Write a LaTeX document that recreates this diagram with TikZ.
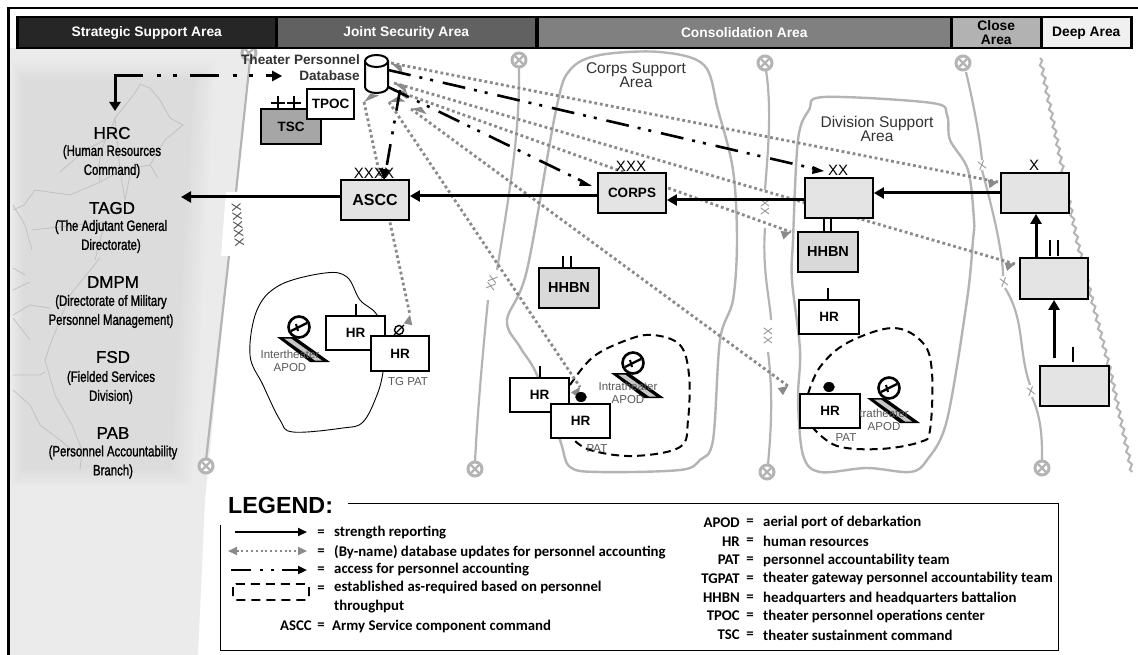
\documentclass[tikz,border=0pt]{standalone}
\usepackage{fontspec}
\setmainfont{Liberation Sans}
\newfontfamily\cond[FakeStretch=0.76,FakeBold=1.2]{Liberation Sans}
\newfontfamily\nmf[FakeBold=0.8]{Liberation Sans}
\newfontfamily\calb{Carlito}
\usetikzlibrary{arrows.meta,shapes.geometric,decorations.pathmorphing,calc}
\definecolor{phase}{HTML}{B4B4B4}
\definecolor{upd}{HTML}{8A8A8A}
\definecolor{boxg}{HTML}{E4E4E4}
\definecolor{boxh}{HTML}{D9D9D9}
\tikzset{
 bandbox/.style={draw=black,line width=2.5pt,anchor=north west,inner sep=0pt,font=\fontsize{13.8}{13.5}\selectfont\bfseries,align=center},
 unitbox/.style={draw=black,line width=1.8pt,fill=white,inner sep=0pt,font=\fontsize{13.5}{14}\selectfont\bfseries},
 echelon/.style={font=\fontsize{15}{15}\selectfont,inner sep=0pt},
 strength/.style={line width=3pt,-{Triangle[length=10pt,width=11pt]}},
 access/.style={line width=2.6pt,dash pattern=on 23pt off 9pt on 3pt off 8pt on 3pt off 10pt},
 accessb/.style={line width=3pt,dash pattern=on 29pt off 14pt on 4pt off 12pt on 4pt off 13pt},
 update/.style={draw=upd,line width=2.8pt,dash pattern=on 2.8pt off 2.8pt},
 phaseline/.style={draw=phase,line width=2.2pt},
 region/.style={draw=phase,line width=2.4pt},
 blob/.style={draw=black,line width=2pt,dash pattern=on 8pt off 5pt},
 areatext/.style={font=\fontsize{15.5}{14.5}\selectfont,text=black!80,align=center,inner sep=0pt},
 smalltext/.style={font=\fontsize{11.5}{13}\selectfont,text=black!65,align=center,inner sep=0pt},
 unitname/.style={font=\nmf\fontsize{17}{17}\selectfont,inner sep=0pt},
 unitlong/.style={font=\cond\fontsize{15}{19}\selectfont,inner sep=0pt,align=center},
 legtext/.style={font=\calb\bfseries\fontsize{14.8}{19}\selectfont,anchor=west,inner sep=0pt,align=left},
 legkey/.style={font=\calb\bfseries\fontsize{14.8}{19}\selectfont,anchor=east,inner sep=0pt},
 legeq/.style={font=\calb\bfseries\fontsize{14.8}{19}\selectfont,inner sep=0pt},
 xmark/.style={font=\fontsize{12}{12}\selectfont,text=phase!80!black,inner sep=0pt},
}
\newcommand{\phasedot}[2]{%
 \fill[white] (#1,#2) circle (8);
 \draw[phase,line width=3pt] (#1,#2) circle (7);
 \draw[phase,line width=2.4pt] (#1-4,#2-4) -- (#1+4,#2+4) (#1-4,#2+4) -- (#1+4,#2-4);}
\newcommand{\airfield}[2]{%
 \begin{scope}[shift={(#1,#2)}]
 \fill[black] (-22,10) -- (-4,10) -- (31,35) -- (11,35) -- cycle;
 \fill[black!22] (-15,11.5) -- (-8,11.5) -- (23,33.5) -- (16,33.5) -- cycle;
 \draw[line width=2.6pt,fill=white] (0,0) circle (10.5);
 \draw[line width=2.4pt] (-8,4) -- (8,-4);
 \draw[line width=2pt] (-3,-3) -- (-1,4);
 \end{scope}}
\begin{document}
\begin{tikzpicture}[x=1pt,y=-1pt]
\useasboundingbox (0,0) rectangle (1138,655);
\fill[white] (0,0) rectangle (1138,655);
% left shaded strategic area
\fill[black!8] (10,48) -- (250,48) -- (205,500) -- (198,655) -- (10,655) -- cycle;
\foreach \i/\c in {0/8.7,1/9.4,2/10.1,3/10.8,4/11.5,5/12.2,6/12.9,7/13.6}{
 \fill[black!\c] (12+\i*1.5,62+\i*2.5) -- (215-\i*3,62+\i*2.5) -- (192-\i*3,486-\i*2.5) -- (12+\i*1.5,486-\i*2.5) -- cycle;}
% map lines
\begin{scope}[draw=black!24,line width=.8pt,line join=round]
\draw (13,210) -- (24,205) -- (35,190) -- (70,195) -- (100,182) -- (122,170) -- (150,165) -- (158,178);
\draw (100,182) .. controls (95,150) and (110,135) .. (115,118) .. controls (125,105) and (135,95) .. (140,84) -- (150,88) -- (160,100) -- (170,118) -- (183,125) -- (165,140) -- (150,165);
\draw (60,172) -- (85,150) -- (115,135) (115,118) -- (120,170) -- (125,200) -- (130,175);
\draw (13,205) -- (25,225) -- (32,250) (32,230) -- (105,222) -- (95,260);
\draw (13,268) -- (25,275) (13,290) -- (30,282) (13,315) -- (30,305) -- (50,308);
\draw (13,318) -- (30,340) (100,258) -- (92,268) -- (70,295) -- (50,345) -- (45,360) -- (55,395) -- (72,425) -- (82,450) -- (80,470);
\draw (13,375) -- (40,375) -- (45,372) (13,390) -- (30,405) -- (40,425) -- (60,440) -- (78,455);
\end{scope}
% phase lines
\draw[phaseline] (250,60) -- (236,192);
\draw[phaseline] (229,256) -- (206,460);
\fill[white] (226,192) -- (240,192) -- (236,256) -- (221,256) -- cycle;
\draw[phaseline] (519,68) .. controls (520,130) and (510,190) .. (497,270);
\draw[phaseline] (488,300) .. controls (482,360) and (477,420) .. (475,462);
\draw[phaseline] (766,70) .. controls (772,110) and (768,150) .. (765,190);
\draw[phaseline] (765,228) .. controls (762,270) and (770,300) .. (771,320);
\draw[phaseline] (768,352) .. controls (774,400) and (770,440) .. (768,465);
\draw[phaseline] (966,72) .. controls (975,110) and (980,140) .. (982,160);
\draw[phaseline] (982,170) .. controls (990,200) and (1003,250) .. (1003,276);
\draw[phaseline] (1005,288) .. controls (1025,320) and (1018,350) .. (1030,385);
\draw[phaseline] (1032,397) .. controls (1042,420) and (1042,440) .. (1042,460);
\phasedot{249}{53}\phasedot{206}{466}\phasedot{519}{60}\phasedot{475}{469}
\phasedot{765}{63}\phasedot{767}{472}\phasedot{963}{63}\phasedot{1042}{468}
\node[font=\fontsize{13}{13}\selectfont,text=black!70,inner sep=0pt,rotate=-85] (lx5) at (238,225) {XXXXX};
\node[xmark,rotate=75] (lx2) at (492,283) {XX};
\node[xmark,rotate=-90] (lx3a) at (765,208) {XX};
\node[xmark,rotate=-90] (lx3b) at (768,336) {XX};
\node[xmark,rotate=15] (lx4a) at (982,165) {X};
\node[xmark,rotate=15] (lx4b) at (1004,282) {X};
\node[xmark,rotate=15] (lx4c) at (1031,391) {X};
% forward line
\draw[draw=phase,line width=2pt,decorate,decoration={snake,amplitude=1.6pt,segment length=9pt}] (1040,58) -- (1077,240) -- (1110,370) -- (1132,472);
% regions
\draw[region] plot[smooth cycle,tension=.55] coordinates {(660,52) (704,65) (718,110) (733,170) (737,240) (733,300) (720,340) (713,440) (700,460) (680,470) (600,472) (570,467) (560,440) (537,375) (520,347) (507,320) (527,270) (556,110) (570,70) (600,55)};
\draw[region] plot[smooth cycle,tension=.55] coordinates {(824,97) (932,103) (947,115) (950,140) (968,170) (974,220) (973,240) (967,300) (947,420) (927,460) (910,472) (867,468) (820,472) (803,455) (798,400) (800,350) (792,280) (793,240) (798,140) (809,110)};
\draw[black,line width=.9pt] plot[smooth cycle,tension=.6] coordinates {(325,273) (347,277) (360,300) (377,315) (385,345) (383,372) (377,395) (363,422) (343,428) (293,432) (280,420) (263,385) (250,355) (257,310) (280,285)};
\draw[blob] plot[smooth,tension=.6] coordinates {(570,385) (593,357) (627,340) (653,335) (680,345) (689,375) (688,420) (680,447) (633,456) (590,450) (572,438)};
\draw[blob] plot[smooth,tension=.6] coordinates {(808,394) (820,367) (847,343) (893,328) (923,343) (932,373) (930,430) (920,442) (880,449) (837,446) (813,428)};
% airfields
\airfield{299}{327}\airfield{633}{363}\airfield{889}{388}
% band
\node[bandbox,fill=black!85,text=white,minimum width=259,minimum height=31] (b1) at (16,16) {Strategic Support Area};
\node[bandbox,fill=black!62,text=white,minimum width=259,minimum height=31] (b2) at (275.5,16) {Joint Security Area};
\node[bandbox,fill=black!50,text=white,minimum width=414,minimum height=31] (b3) at (536,16) {Consolidation Area};
\node[bandbox,fill=black!30,minimum width=90,minimum height=31] (b4) at (950,16) {Close\\Area};
\node[bandbox,fill=black!6,minimum width=90,minimum height=31] (b5) at (1040,16) {Deep Area};
\draw[line width=2pt] (1138,8) -- (8.5,8);
\draw[line width=3pt] (8.5,7) -- (8.5,655);
% update lines
\coordinate (dba) at (391,63);\coordinate (dbb) at (394,83);\coordinate (dbc) at (394,90);
\coordinate (dbd) at (411,109);\coordinate (dbe) at (389,102);\coordinate (dbf) at (364,102);
\coordinate (hrd) at (788,386);\coordinate (hra) at (580,387);\coordinate (hrt) at (410,315);
\coordinate (xin) at (998,182);\coordinate (iin) at (1015,264);\coordinate (hhin) at (791,232);
\foreach \a/\b in {dba/xin,dbb/iin,dbc/hhin,dbd/hrd,dbe/hra,dbf/hrt}{
 \draw[update] (\a) -- (\b);
 \path let \p1=($(\a)-(\b)$), \n1={atan2(\y1,\x1)} in
  \pgfextra{\xdef\ang{\n1}};
 \fill[upd] (\a) -- ++(\ang-180+25:10.5) -- ++(\ang-90:8.9) -- cycle;
 \fill[upd] (\b) -- ++(\ang+25:10.5) -- ++(\ang-90:8.9) -- cycle;
}
% database
\node[minimum width=23,minimum height=38,inner sep=0pt] (db) at (376.5,74) {};
\draw[line width=2pt,fill=white] (365,61) -- (365,87) arc[start angle=180,end angle=0,x radius=11.5,y radius=6] -- (388,61);
\draw[line width=2pt,fill=white] (376.5,61) ellipse (11.5 and 6);
\node[font=\fontsize{13.6}{16}\selectfont,align=right,anchor=east,inner sep=0pt,text=black!80] (dbl) at (360,68) {\textbf{Theater Personnel}\\\textbf{Database}};
% unit boxes
\newcommand{\ubox}[7]{\node[unitbox,fill=#6,minimum width=#4,minimum height=#5] (#1) at (#2,#3) {#7};}
\ubox{tsc}{291}{126.5}{60}{35}{black!35}{TSC}
\ubox{tpoc}{330.5}{104}{47}{30}{white}{TPOC}
\ubox{ascc}{375}{200}{68}{40}{boxg}{\fontsize{16}{16}\selectfont ASCC}
\ubox{corps}{632}{193}{68}{40}{boxg}{CORPS}
\ubox{xx}{839}{198}{68}{40}{boxg}{}
\ubox{xb}{1035}{193}{68}{40}{boxg}{}
\ubox{ii}{1054}{278.5}{68}{41}{boxg}{}
\ubox{ib}{1074.5}{386}{69}{40}{boxg}{}
\ubox{hh1}{569}{288}{60}{40}{boxh}{\fontsize{14.5}{15}\selectfont HHBN}
\ubox{hh2}{828}{252}{60}{40}{boxh}{\fontsize{14.5}{15}\selectfont HHBN}
\ubox{hr1}{829}{317}{60}{34}{white}{HR}
\ubox{hr2}{830}{411}{60}{34}{white}{HR}
\ubox{hr3}{355.5}{333}{59}{34}{white}{HR}
\ubox{hr4}{400}{353.5}{58}{35}{white}{HR}
\ubox{hr5}{539.5}{395}{59}{34}{white}{HR}
\ubox{hr6}{580.5}{421}{59}{34}{white}{HR}
% symbols
\node[echelon] (e1) at (374,173) {XXXX};
\node[echelon] (e2) at (631,166) {XXX};
\node[echelon] (e3) at (838,170) {XX};
\node[echelon] (e4) at (1034,165) {X};
\draw[line width=1.5pt] (271,103) -- (285,103) (278,96) -- (278,109) (287,103) -- (301,103) (294,96) -- (294,109);
\draw[line width=1.4pt] (1050,240) -- (1050,256) (1058,240) -- (1058,256);
\draw[line width=1.4pt] (1073,347) -- (1073,362);
\draw[line width=1.4pt] (563,256) -- (563,268) (571,256) -- (571,268);
\draw[line width=1.4pt] (824,218) -- (824,232) (831,218) -- (831,232);
\draw[line width=1.4pt] (828,288) -- (828,300);
\draw[line width=1.4pt] (356,304) -- (356,316);
\draw[line width=1.4pt] (540,366) -- (540,378);
\fill (829,387) ellipse (5.8 and 5);
\fill (581,397) ellipse (5.8 and 5);
\draw[line width=1.4pt] (399,330) circle (4.5) (394,335) -- (404,325) (397,335) -- (397,336);
% small labels
\node[smalltext] (t1) at (290,360.5) {Intertheater\\APOD};
\node[smalltext] (t2) at (628,393) {Intratheater\\APOD};
\node[smalltext] (t3) at (884,420) {tratheater\\APOD};
\node[smalltext] (t4) at (408,382) {TG PAT};
\node[smalltext] (t5) at (597,449) {PAT};
\node[smalltext] (t6) at (846,438) {PAT};
\node[areatext] (a1) at (636,75) {Corps Support\\Area};
\node[areatext] (a2) at (877,129) {Division Support\\Area};
% HQ text
\node[unitname] (n1) at (112,133) {HRC};
\node[unitlong] (n1b) at (112,161.5) {(Human Resources\\Command)};
\node[unitname] (n2) at (112,208) {TAGD};
\node[unitlong] (n2b) at (111,236.5) {(The Adjutant General\\Directorate)};
\node[unitname] (n3) at (113,282) {DMPM};
\node[unitlong] (n3b) at (111,311.5) {(Directorate of Military\\Personnel Management)};
\node[unitname] (n4) at (113,357) {FSD};
\node[unitlong] (n4b) at (111,387.5) {(Fielded Services\\Division)};
\node[unitname] (n5) at (113,433) {PAB};
\node[unitlong] (n5b) at (113,462) {(Personnel Accountability\\Branch)};
% strength arrows
\coordinate (hq) at (181,197);
\draw[strength] (ib.north -| ii.south) ++(0,-7) -- (ii.south);
\draw[strength] ([xshift=-18pt]ii.north) -- ([xshift=-18pt]ii.north |- xb.south);
\draw[strength] (xb.west) -- (xb.west -| xx.east);
\draw[strength] ([yshift=-2pt]xx.west) -- ([yshift=-2pt]xx.west -| corps.east);
\draw[strength] ([yshift=-3pt]corps.west) -- ([yshift=-3pt]corps.west -| ascc.east);
\draw[strength] (ascc.west |- hq) -- (hq);
% access arrows
\coordinate (acc) at (115,76);\coordinate (acd) at (282,76);\coordinate (acx) at (820,170);\coordinate (acc2) at (590,185);
\coordinate (ah) at (115,111);
\draw[line width=3pt,-{Triangle[length=9pt,width=11pt]}] (acc) -- (ah);
\draw[accessb] ($(acc)+(-1.5,0)$) -- ($(acd)+(-8,0)$);
\fill ($(acd)+(-10,-5.5)$) -- (acd) -- ($(acd)+(-10,5.5)$) -- cycle;
\draw[access] ([yshift=4pt]db.east) -- (acx);
\fill (824,171) -- (813,166) -- (812,174) -- cycle;
\draw[access] ([yshift=-13pt]db.east) -- (acc2);
\fill (592,186) -- (581,179) -- (579,186) -- cycle;
\coordinate (acs0) at (400,90);
\draw[line width=2.6pt,dash pattern=on 21pt off 10pt on 3pt off 8pt on 3pt off 10pt] (acs0) -- (386,170);
\fill (384,180) -- (379,168) -- (390,170) -- cycle;
% legend
\node[font=\fontsize{23.3}{23}\selectfont\bfseries,anchor=west,inner sep=0pt] (lg) at (228,505) {LEGEND:};
\coordinate (lgtr) at (1058,503);\coordinate (lgbr) at (1058,650);\coordinate (lgbl) at (220,650);\coordinate (lgtl) at (220,525);\coordinate (lgst) at (348,503);
\draw[line width=1pt] (lgst) -- (lgtr) -- (lgbr) -- (lgbl) -- (lgtl);
\coordinate (k1a) at (235,532);\coordinate (k1b) at (307,532);
\draw[line width=2.2pt,-{Triangle[length=9pt,width=8pt]}] (k1a) -- (k1b);
\coordinate (k2a) at (228,551);\coordinate (k2b) at (307,551);
\draw[draw=upd,line width=2pt,dash pattern=on 2pt off 2.8pt,{Triangle[length=9pt,width=8pt,color=upd]}-{Triangle[length=9pt,width=8pt,color=upd]}] (k2a) -- (k2b);
\coordinate (k3a) at (231,570);\coordinate (k3b) at (307,570);
\draw[line width=2.4pt,dash pattern=on 20pt off 9pt on 3pt off 8pt on 3pt off 8pt on 40pt,-{Triangle[length=9pt,width=8pt]}] (k3a) -- (k3b);
\draw[line width=1.6pt,dash pattern=on 9pt off 6pt,rounded corners=3pt] (233,584) rectangle (309,600);
\foreach \y/\t in {533/strength reporting,552/(By-name) database updates for personnel accounting,570/access for personnel accounting}{
 \node[legeq] at (321,\y) {=};
 \node[legtext] at (334,\y) {\t};}
\node[legeq] at (321,589) {=};
\node[legtext,anchor=north west] (l4) at (334,581) {established as-required based on personnel\\throughput};
\node[legeq] at (321,626) {=};
\node[legkey] at (312,626) {ASCC};
\node[legtext] at (332,626) {Army Service component command};
\foreach \y/\k/\t in {522.5/APOD/aerial port of debarkation,541.5/HR/human resources,560/PAT/personnel accountability team,579/TGPAT/theater gateway personnel accountability team,598/HHBN/headquarters and headquarters battalion,616/TPOC/theater personnel operations center,635/TSC/theater sustainment command}{
 \node[legkey] at (740,\y) {\k};
 \node[legeq] at (750,\y) {=};
 \node[legtext] at (763,\y) {\t};}
\end{tikzpicture}
\end{document}
